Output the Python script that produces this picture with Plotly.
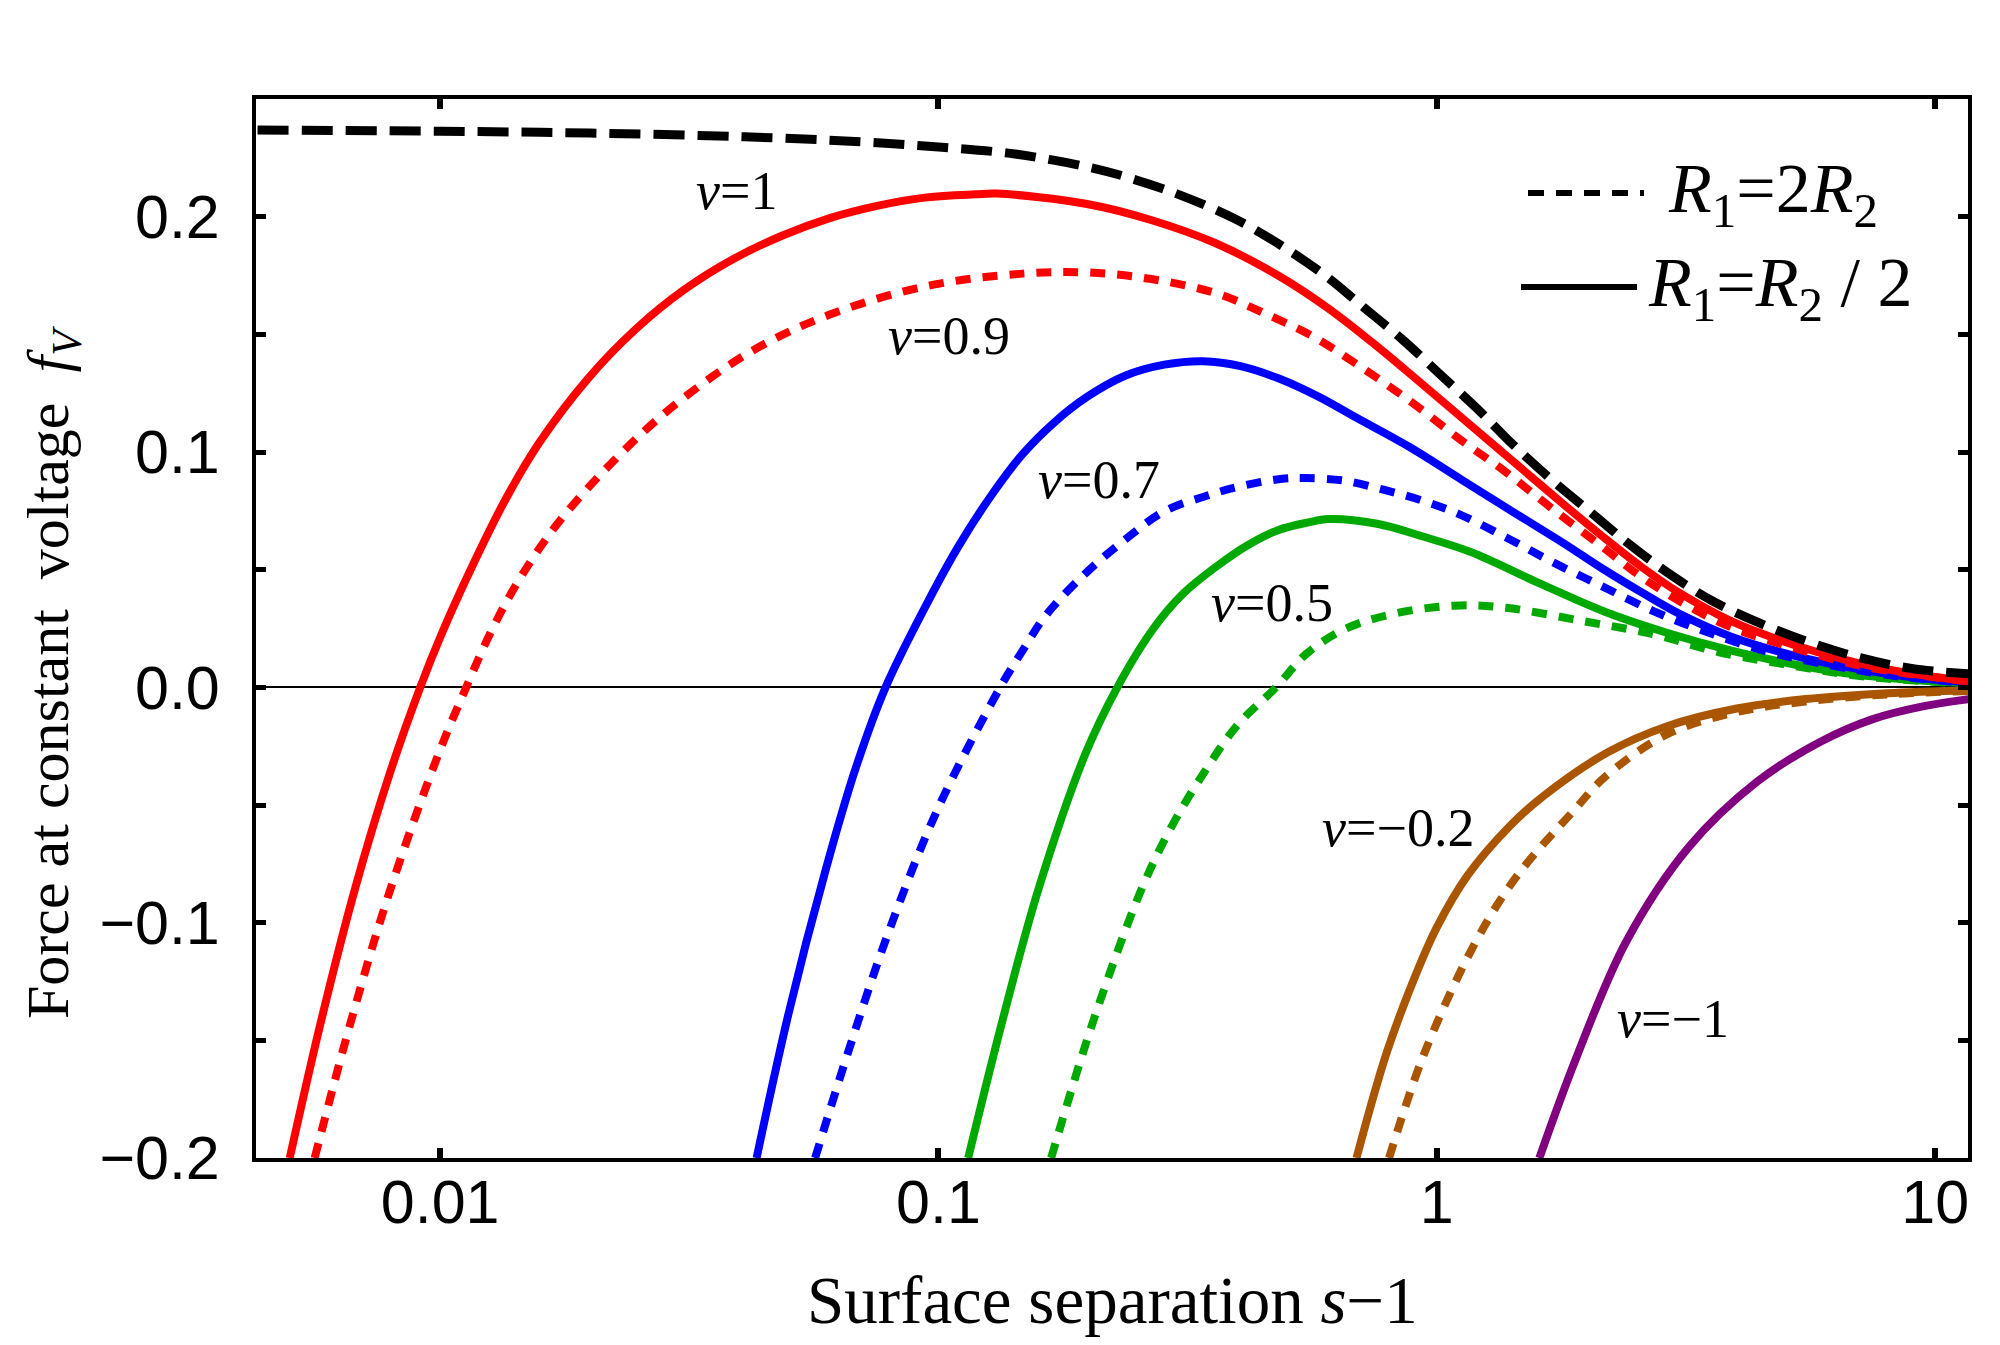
import numpy as np
import plotly.graph_objects as go

# ---------------- data ----------------
# black dashed reference curve
black_x = [0.0043, 0.01, 0.02, 0.04, 0.07, 0.10, 0.138, 0.17, 0.2025, 0.23, 0.30, 0.394, 0.485,
           0.597, 0.714, 0.854, 1.021, 1.22, 1.416, 1.693, 2.025, 2.42, 2.893, 3.56, 4.39, 5.41,
           7.07, 8.97, 11.7]
black_y = [0.2368, 0.2363, 0.2355, 0.2340, 0.2318, 0.2296, 0.2270, 0.2240, 0.2208, 0.2178, 0.2098,
           0.1990, 0.1880, 0.1750, 0.1614, 0.1477, 0.1325, 0.1173, 0.1035, 0.0885, 0.0748, 0.0612,
           0.0490, 0.0369, 0.0278, 0.0202, 0.0126, 0.0080, 0.0057]

# v = 1
v1_half_x = [0.00499, 0.00575, 0.00676, 0.00794, 0.00912, 0.01009, 0.01154, 0.01349, 0.01578,
             0.01976, 0.02472, 0.03092, 0.03867, 0.04838, 0.06052, 0.07571, 0.0947, 0.1186, 0.131,
             0.1986, 0.267, 0.36, 0.485, 0.607, 0.759, 0.934, 1.185, 1.416, 1.798, 2.148, 2.57,
             3.07, 3.9, 5.25, 7.07, 9.52, 11.7]
v1_half_y = [-0.2, -0.143, -0.085, -0.036, 0.0, 0.0232, 0.0505, 0.0794, 0.1037, 0.1310, 0.1523,
             0.1690, 0.1819, 0.1918, 0.1994, 0.2047, 0.2082, 0.2095, 0.2098, 0.2054, 0.1986,
             0.1887, 0.1745, 0.1609, 0.1449, 0.1289, 0.1103, 0.0964, 0.0777, 0.0642, 0.0513,
             0.0401, 0.0281, 0.0178, 0.0101, 0.0050, 0.0027]
v1_two_x = [0.0056, 0.0066, 0.00794, 0.01, 0.01128, 0.01262, 0.01443, 0.01727, 0.0226, 0.02957,
            0.04229, 0.06052, 0.0947, 0.1475, 0.1986, 0.267, 0.36, 0.457, 0.563, 0.693, 0.88,
            1.116, 1.375, 1.693, 2.148, 2.57, 3.165, 3.9, 5.25, 7.07, 9.52, 11.7]
v1_two_y = [-0.2, -0.143, -0.086, -0.0265, 0.0, 0.0232, 0.0460, 0.0700, 0.0975, 0.1200, 0.1430,
            0.1584, 0.1705, 0.1758, 0.1763, 0.1735, 0.1675, 0.1584, 0.1492, 0.1371, 0.1219,
            0.1052, 0.0915, 0.0764, 0.0597, 0.0470, 0.0350, 0.0255, 0.0165, 0.0092, 0.0048, 0.0025]

# v = 0.7
v07_half_x = [0.04315, 0.0501, 0.0593, 0.0683, 0.0783, 0.0947, 0.1095, 0.127, 0.1475, 0.1712,
              0.1986, 0.2375, 0.2838, 0.3395, 0.4058, 0.485, 0.580, 0.693, 0.880, 1.116, 1.416,
              1.798, 2.148, 2.57, 3.07, 3.90, 5.25, 7.07, 9.52, 11.7]
v07_half_y = [-0.2, -0.138, -0.078, -0.034, 0.0, 0.0354, 0.0597, 0.0809, 0.0991, 0.1128, 0.1234,
              0.1325, 0.1371, 0.1386, 0.1364, 0.1310, 0.1234, 0.1143, 0.1022, 0.0885, 0.0748,
              0.0612, 0.0505, 0.0405, 0.0312, 0.0215, 0.0133, 0.0077, 0.0037, 0.0022]
v07_two_x = [0.05655, 0.0661, 0.0794, 0.1, 0.133, 0.1475, 0.1648, 0.1986, 0.2375, 0.2838, 0.3395,
             0.3988, 0.485, 0.5463, 0.6531, 0.781, 0.934, 1.116, 1.375, 1.693, 2.148, 2.727,
             3.357, 4.524, 6.09, 8.2, 11.7]
v07_two_y = [-0.2, -0.154, -0.104, -0.051, 0.0, 0.0156, 0.0310, 0.0490, 0.0630, 0.0748, 0.0809,
             0.0852, 0.0885, 0.0889, 0.0878, 0.0840, 0.0794, 0.0733, 0.0638, 0.0536, 0.0429,
             0.0323, 0.0247, 0.0156, 0.0096, 0.0050, 0.0018]

# v = 0.5
v05_half_x = [0.1147, 0.135, 0.159, 0.1965, 0.2285, 0.27, 0.3104, 0.362, 0.418, 0.48, 0.55, 0.607,
              0.759, 0.934, 1.17, 1.595, 2.18, 2.893, 3.9, 5.25, 7.07, 9.5, 11.7]
v05_half_y = [-0.2, -0.14, -0.0852, -0.029, 0.0, 0.025, 0.040, 0.0515, 0.0605, 0.0668, 0.0700,
              0.0715, 0.0695, 0.0642, 0.0575, 0.0445, 0.032, 0.0232, 0.0156, 0.0096, 0.0052,
              0.0028, 0.0018]
v05_two_x = [0.1683, 0.2043, 0.2562, 0.2951, 0.346, 0.3988, 0.4757, 0.5463, 0.653, 0.809, 1.08,
             1.375, 1.958, 2.727, 3.67, 5.25, 7.07, 9.5, 11.7]
v05_two_y = [-0.2, -0.142, -0.0852, -0.0583, -0.0342, -0.0158, 0.0, 0.0141, 0.0247, 0.031, 0.0347,
             0.0338, 0.0282, 0.0225, 0.015, 0.009, 0.0048, 0.0026, 0.0016]

# v = -0.2
vm02_half_x = [0.69, 0.794, 0.912, 1.0, 1.152, 1.4, 1.641, 2.208, 2.9, 4.0, 5.5, 8.0, 11.7]
vm02_half_y = [-0.2, -0.155, -0.121, -0.102, -0.080, -0.059, -0.046, -0.0275, -0.0165, -0.009,
               -0.005, -0.0025, -0.0012]
vm02_two_x = [0.802, 0.946, 1.198, 1.45, 1.89, 2.177, 2.895, 4.0, 5.5, 8.0, 11.7]
vm02_two_y = [-0.2, -0.155, -0.108, -0.08, -0.052, -0.038, -0.02, -0.0105, -0.006, -0.003, -0.0015]

# v = -1
vm1_x = [1.606, 1.9, 2.4, 3.2, 4.4, 5.9, 7.5, 9.5, 11.7]
vm1_y = [-0.2, -0.158, -0.108, -0.068, -0.040, -0.023, -0.0135, -0.008, -0.005]

xtick_vals = [0.01, 0.1, 1, 10]
xtick_text = ["0.01", "0.1", "1", "10"]

curve_labels = ["<i>v</i>=1", "<i>v</i>=0.9", "<i>v</i>=0.7", "<i>v</i>=0.5",
                "<i>v</i>=\u22120.2", "<i>v</i>=\u22121"]
label_x = [0.0394, 0.105, 0.210, 0.468, 0.837, 2.975]
label_y = [0.211, 0.1495, 0.0883, 0.036, -0.0597, -0.1408]

# ---------------- figure ----------------
RED, BLUE, GREEN, BROWN, PURPLE = "#FF0000", "#0000FF", "#00A800", "#AA5500", "#800080"
DOT = "15px,12px"

fig = go.Figure()


def add(x, y, color, dash, width=8):
    fig.add_trace(go.Scatter(x=x, y=y, mode="lines",
                             line=dict(color=color, dash=dash, width=width,
                                       shape="spline", smoothing=1.0),
                             showlegend=False, hoverinfo="skip"))


add(vm1_x, vm1_y, PURPLE, "solid")
add(vm02_half_x, vm02_half_y, BROWN, "solid")
add(vm02_two_x, vm02_two_y, BROWN, DOT)
add(v05_half_x, v05_half_y, GREEN, "solid")
add(v05_two_x, v05_two_y, GREEN, DOT)
add(v07_half_x, v07_half_y, BLUE, "solid")
add(v07_two_x, v07_two_y, BLUE, DOT)
add(v1_half_x, v1_half_y, RED, "solid")
add(v1_two_x, v1_two_y, RED, DOT)
add(black_x, black_y, "black", "31px,13px", 9)

L, R, T, B = 248, 40, 91, 195
W, H = 2000, 1345
pw, ph = W - L - R, H - T - B


def px(xp):
    return (xp - L) / pw


def py(yp):
    return (H - B - yp) / ph


fig.update_layout(
    width=W, height=H,
    margin=dict(l=L, r=R, t=T, b=B),
    plot_bgcolor="white", paper_bgcolor="white",
    showlegend=False,
)

tickfont = dict(family="Liberation Sans", size=61, color="black")
fig.update_xaxes(
    type="log", range=[np.log10(0.00427), np.log10(11.64)],
    tickvals=xtick_vals, ticktext=xtick_text,
    ticks="inside", ticklen=10, tickwidth=6, tickcolor="black",
    showline=True, linecolor="black", linewidth=4, mirror="allticks",
    showgrid=False, zeroline=False,
    tickfont=tickfont,
    ticklabelstandoff=-12,
)
fig.update_yaxes(
    range=[-0.2, 0.25], tick0=0, dtick=0.1, tickformat=".1f",
    ticks="inside", ticklen=10, tickwidth=5, tickcolor="black",
    minor=dict(tick0=0, dtick=0.05, ticks="inside", ticklen=10, tickwidth=5,
               tickcolor="black", showgrid=False),
    showline=True, linecolor="black", linewidth=4, mirror="allticks",
    showgrid=False, zeroline=True, zerolinecolor="black", zerolinewidth=2,
    tickfont=tickfont,
    ticklabelstandoff=20,
)

serif = "Liberation Serif"
annotations = []
for t, lx, ly in zip(curve_labels, label_x, label_y):
    annotations.append(dict(x=np.log10(lx), y=ly, xref="x", yref="y", text=t,
                            showarrow=False, xanchor="center", yanchor="middle",
                            font=dict(family=serif, size=54, color="black")))

# axis titles
annotations.append(dict(x=0.5, y=py(1292), xref="paper", yref="paper",
                        text="Surface separation <i>s</i>\u22121", showarrow=False,
                        xanchor="center", yanchor="middle",
                        font=dict(family=serif, size=67, color="black")))
annotations.append(dict(x=px(44), y=py(665), xref="paper", yref="paper",
                        text="Force at constant\u00a0\u00a0voltage\u00a0\u00a0<i>f<sub>V</sub></i>",
                        textangle=-90, showarrow=False, xanchor="center", yanchor="middle",
                        font=dict(family=serif, size=60, color="black")))

# legend
annotations.append(dict(x=px(1658), y=py(186), xref="paper", yref="paper",
                        text="<i>R</i><sub>1</sub>=2<i>R</i><sub>2</sub>", showarrow=False,
                        xanchor="left", yanchor="middle",
                        font=dict(family=serif, size=70, color="black")))
annotations.append(dict(x=px(1638), y=py(280), xref="paper", yref="paper",
                        text="<i>R</i><sub>1</sub>=<i>R</i><sub>2</sub> / 2", showarrow=False,
                        xanchor="left", yanchor="middle",
                        font=dict(family=serif, size=70, color="black")))
fig.update_layout(annotations=annotations)

fig.add_shape(type="line", xref="paper", yref="paper",
              x0=px(1520), x1=px(1636), y0=py(185), y1=py(185),
              line=dict(color="black", width=6, dash="16px,12px"))
fig.add_shape(type="line", xref="paper", yref="paper",
              x0=px(1513), x1=px(1629), y0=py(279), y1=py(279),
              line=dict(color="black", width=6))

fig.write_html("out.html")
